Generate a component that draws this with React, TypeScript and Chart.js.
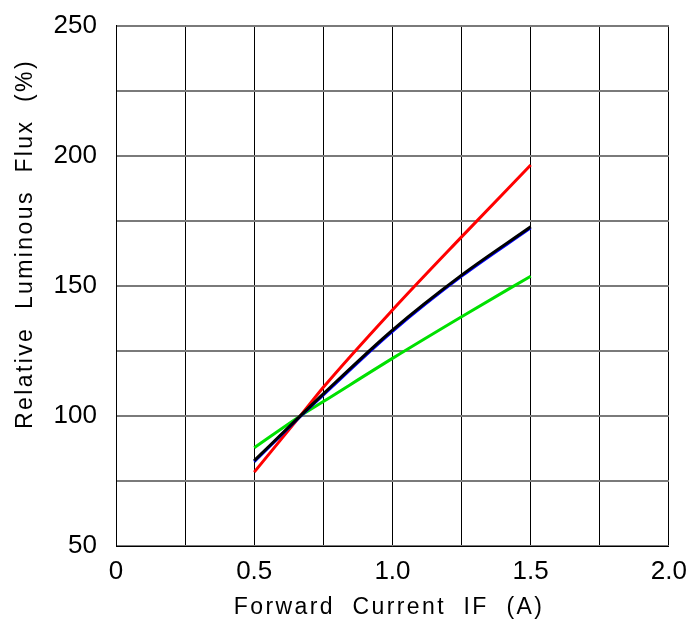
import React, { useEffect, useRef } from "react";
import { Chart, registerables } from "chart.js";

Chart.register(...registerables);

const currentA = [0.5, 0.6667, 0.75, 1.0, 1.25, 1.5];
const redFlux = [78.4, 100, 111, 140.7, 168.8, 196.4];
const blueFlux = [82.4, 99.8, 108.1, 132.5, 153.7, 172.3];
const blackFlux = [82.8, 100, 108.5, 133, 154.1, 172.7];
const greenFlux = [87.8, 100, 105.5, 122.1, 138.1, 153.7];

const xTickLabels: Record<string, string> = { "0": "0", "0.5": "0.5", "1": "1.0", "1.5": "1.5", "2": "2.0" };
const yTickLabels = [50, 100, 150, 200, 250];

const xTitle = "Forward  Current  IF  (A)";
const yTitle = "Relative  Luminous  Flux  (%)";

const FONT = '"Liberation Sans", Arial, sans-serif';
const SHIFT = 9;
const EXTRA_W = 3;

const toPoints = (ys: number[]) => ys.map((y, i) => ({ x: currentA[i], y }));

export default function App() {
  const ref = useRef<HTMLCanvasElement | null>(null);

  useEffect(() => {
    document.body.style.margin = "0";
    const canvas = ref.current!;
    const titlePlugin = {
      id: "titles",
      afterDraw(chart: any) {
        const { ctx } = chart;
        ctx.save();
        ctx.fillStyle = "#000";
        ctx.font = `23px ${FONT}`;
        try { (ctx as any).letterSpacing = "2.4px"; } catch (e) {}
        ctx.textAlign = "center";
        ctx.textBaseline = "alphabetic";
        ctx.fillText(xTitle, 389, 614 + SHIFT);
        ctx.textBaseline = "middle";
        ctx.translate(26, 244 + SHIFT);
        ctx.rotate(-Math.PI / 2);
        ctx.fillText(yTitle, 0, 0);
        ctx.restore();
      },
    };
    const ds = (data: number[], color: string, width: number) => ({
      data: toPoints(data),
      borderColor: color,
      backgroundColor: color,
      borderWidth: width,
      pointRadius: 0,
      cubicInterpolationMode: "monotone" as const,
      fill: false,
    });
    const chart = new Chart(canvas, {
      type: "line",
      data: {
        datasets: [
          ds(blackFlux, "#000000", 3),
          ds(blueFlux, "#0000ff", 3),
          ds(redFlux, "#ff0000", 3),
          ds(greenFlux, "#00e000", 3),
        ],
      },
      options: {
        responsive: false,
        animation: false,
        layout: { padding: { top: 20, right: 23, left: 0, bottom: 0 } },
        plugins: { legend: { display: false }, tooltip: { enabled: false } },
        scales: {
          x: {
            type: "linear",
            min: 0,
            max: 2,
            afterFit: (s: any) => { s.height = 78; },
            ticks: {
              stepSize: 0.25,
              autoSkip: false,
              maxRotation: 0,
              color: "#000",
              padding: 10,
              font: { size: 26, family: FONT },
              callback: (v: any) => xTickLabels[String(Number(v))] ?? "",
            },
            grid: { color: "#000", lineWidth: 1, drawTicks: false },
            border: { color: "#000", width: 1 },
          },
          y: {
            type: "linear",
            min: 50,
            max: 250,
            afterFit: (s: any) => { s.width = 116; },
            ticks: {
              stepSize: 25,
              autoSkip: false,
              color: "#000",
              padding: 19,
              font: { size: 26, family: FONT },
              callback: (v: any) => (yTickLabels.includes(Number(v)) ? String(v) : ""),
            },
            grid: { color: "#7a7a7a", lineWidth: 2, drawTicks: false },
            border: { color: "#000", width: 1 },
          },
        },
      },
      plugins: [titlePlugin],
    });
    return () => chart.destroy();
  }, []);

  return (
    <div style={{ position: "absolute", left: 0, top: 0, width: 694, height: 624, overflow: "hidden", background: "#fff" }}>
      <canvas ref={ref} width={694 + EXTRA_W} height={624 + SHIFT} style={{ position: "absolute", left: 0, top: -SHIFT }} />
    </div>
  );
}
